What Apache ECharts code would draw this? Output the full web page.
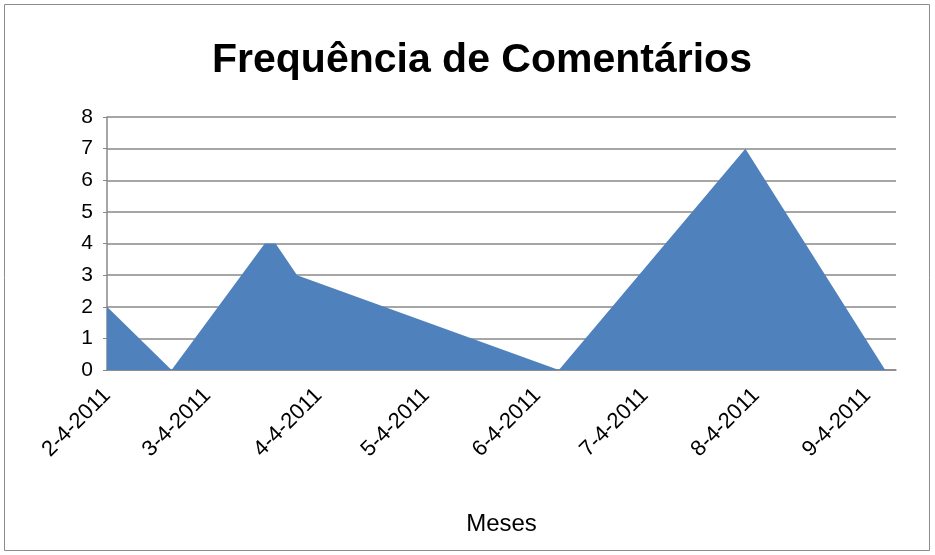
<!DOCTYPE html>
<html>
<head>
<meta charset="utf-8">
<script src="https://cdn.jsdelivr.net/npm/echarts@6/dist/echarts.min.js"></script>
<style>
  html, body { margin: 0; padding: 0; background: #fff; }
  #chart { width: 935px; height: 555px; }
</style>
</head>
<body>
<div id="chart"></div>
<script>
// data (dates as y-m-d)
const pointDates = ['2011-02-04', '2011-02-22', '2011-03-20', '2011-03-23', '2011-03-29', '2011-06-10', '2011-08-01', '2011-09-09']
const pointValues = [2, 0, 4, 4, 3, 0, 7, 0]
const tickDates = ['2011-02-04', '2011-03-04', '2011-04-04', '2011-05-04', '2011-06-04', '2011-07-04', '2011-08-04', '2011-09-04']
const tickLabels = ['2-4-2011', '3-4-2011', '4-4-2011', '5-4-2011', '6-4-2011', '7-4-2011', '8-4-2011', '9-4-2011']
const axisMin = '2011-02-04'
const axisMax = '2011-09-12'

// x axis runs in days from axisMin
const DAY = 86400000
const ts = d => new Date(d + 'T00:00:00Z').getTime()
const dayOf = d => Math.round((ts(d) - ts(axisMin)) / DAY)
const tickDays = tickDates.map(dayOf)
const labelFor = v => {
  const i = tickDays.indexOf(Math.round(v))
  return i >= 0 ? tickLabels[i] : ''
}

const chart = echarts.init(document.getElementById('chart'))
const font = 'Liberation Sans'
const option = {
  backgroundColor: '#fff',
  animation: false,
  title: {
    text: 'Frequência de Comentários',
    left: 207,
    top: 35,
    textStyle: { fontFamily: font, fontSize: 41, fontWeight: 'bold', color: '#000' }
  },
  graphic: [{
    type: 'rect',
    shape: { x: 4.5, y: 4.5, width: 925, height: 546 },
    style: { fill: 'none', stroke: '#8c8c8c', lineWidth: 1 },
    silent: true
  }],
  grid: { left: 107, right: 39, top: 117, bottom: 185 },
  xAxis: {
    type: 'value',
    min: 0,
    max: dayOf(axisMax),
    name: 'Meses',
    nameLocation: 'middle',
    nameGap: 142,
    nameTextStyle: { fontFamily: font, fontSize: 24, color: '#000' },
    axisLine: { lineStyle: { color: '#888', width: 1.5 } },
    axisTick: { show: false },
    splitLine: { show: false },
    axisLabel: {
      customValues: tickDays,
      rotate: 45,
      margin: 22,
      fontFamily: font,
      fontSize: 22,
      color: '#000',
      formatter: v => labelFor(v)
    }
  },
  yAxis: {
    type: 'value',
    min: 0,
    max: 8,
    interval: 1,
    axisLine: { show: true, lineStyle: { color: '#888', width: 1.5 } },
    axisTick: { show: true, length: 4, lineStyle: { color: '#888' } },
    splitLine: { lineStyle: { color: '#888', width: 1.5 } },
    axisLabel: { fontFamily: font, fontSize: 21, color: '#000', margin: 14 }
  },
  series: [{
    type: 'line',
    data: pointDates.map((d, i) => [dayOf(d), pointValues[i]]),
    showSymbol: false,
    lineStyle: { width: 0 },
    itemStyle: { color: '#4F81BD' },
    areaStyle: { color: '#4F81BD', opacity: 1 }
  }]
}
chart.setOption(option)
</script>
</body>
</html>
